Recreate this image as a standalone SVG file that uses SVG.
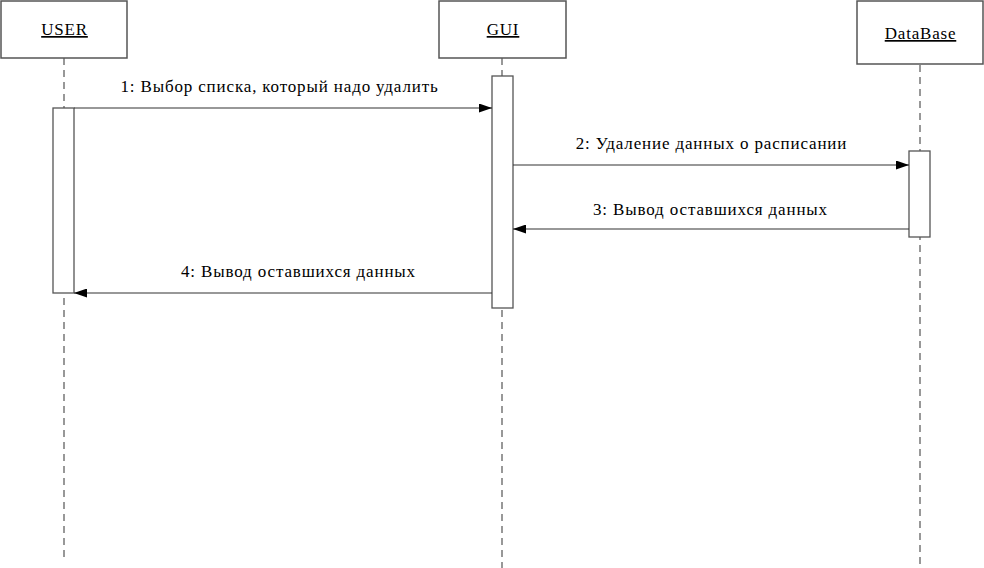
<svg xmlns="http://www.w3.org/2000/svg" width="984" height="568" viewBox="0 0 984 568">
<style>
.box{fill:#fff;stroke:#555;stroke-width:1.5}
.act{fill:#fff;stroke:#555;stroke-width:1.3}
.life{stroke:#777;stroke-width:1.5;stroke-dasharray:7 5;fill:none}
.msg{stroke:#333;stroke-width:1.2;fill:none}
.name{font-family:"Liberation Serif","Times New Roman",serif;font-size:17px;letter-spacing:0.8px;fill:#000;text-anchor:middle;text-decoration:underline}
.lbl{font-family:"Liberation Serif","Times New Roman",serif;font-size:17px;letter-spacing:0.85px;fill:#000;text-anchor:middle}
</style>
<defs>
<marker id="ah" markerWidth="13" markerHeight="9" refX="13" refY="4.5" orient="auto" markerUnits="userSpaceOnUse">
<path d="M0,0 L13,4.5 L0,9 Z" fill="#000"/>
</marker>
</defs>
<g id="lifelines">
<line class="life" x1="64" y1="58" x2="64" y2="558"/>
<line class="life" x1="502" y1="58" x2="502" y2="568"/>
<line class="life" x1="920" y1="65" x2="920" y2="568"/>
</g>
<g id="USER">
<rect class="box" x="1" y="1" width="126" height="57"/>
<text class="name" x="64.5" y="35">USER</text>
<rect class="act" x="53" y="108" width="21" height="185"/>
</g>
<g id="GUI">
<rect class="box" x="439" y="1" width="127" height="57"/>
<text class="name" x="503" y="35">GUI</text>
<rect class="act" x="492" y="76" width="21" height="232"/>
</g>
<g id="DataBase">
<rect class="box" x="857" y="1" width="126" height="63"/>
<text class="name" x="920.5" y="39">DataBase</text>
<rect class="act" x="909" y="151" width="21" height="86"/>
</g>
<g id="connectors">
<line class="msg" x1="74" y1="108" x2="492" y2="108" marker-end="url(#ah)"/>
<text class="lbl" x="279.5" y="92">1: Выбор списка, который надо удалить</text>
<line class="msg" x1="513" y1="165" x2="909" y2="165" marker-end="url(#ah)"/>
<text class="lbl" x="711.5" y="149">2: Удаление данных о расписании</text>
<line class="msg" x1="909" y1="229" x2="513" y2="229" marker-end="url(#ah)"/>
<text class="lbl" x="710.5" y="215">3: Вывод оставшихся данных</text>
<line class="msg" x1="492" y1="293" x2="74" y2="293" marker-end="url(#ah)"/>
<text class="lbl" x="298.5" y="277">4: Вывод оставшихся данных</text>
</g>
</svg>
